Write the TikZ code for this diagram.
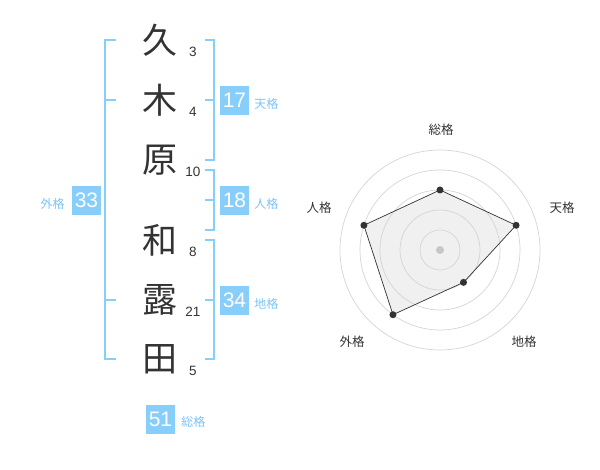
\documentclass[tikz,border=0pt]{standalone}
\usepackage{fontspec}
\setmainfont{Liberation Sans}
\newfontfamily\jp{Noto Sans CJK JP}
\usetikzlibrary{calc,positioning}
\definecolor{kakublue}{RGB}{135,206,250}
\definecolor{kakutext}{RGB}{125,195,245}
\definecolor{sumi}{RGB}{51,51,51}
\begin{document}
\begin{tikzpicture}[x=1pt,y=-1pt,
  moji/.style={font=\jp\fontsize{35}{35}\selectfont,text=sumi,inner sep=0pt},
  kakusu/.style={font=\fontsize{13.5}{13.5}\selectfont,text=sumi,inner sep=0pt},
  kakubox/.style={fill=kakublue,text=white,minimum size=29pt,inner sep=0pt,font=\fontsize{21}{21}\selectfont},
  kakulbl/.style={font=\jp\fontsize{12}{12}\selectfont,text=kakutext,inner sep=0pt,yshift=-3pt},
  bracket/.style={draw=kakublue,line width=2pt},
  ring/.style={draw=black!17,line width=0.7pt},
  axislbl/.style={font=\jp\fontsize{12.5}{12.5}\selectfont,text=sumi,inner sep=0pt},
  dot/.style={circle,fill=sumi,inner sep=0pt,minimum size=7pt}]
  \useasboundingbox (0,0) rectangle (600,470);

  \foreach \c/\y/\n/\k in {久/40/3/a,木/100/4/b,原/160/10/c,和/240/8/d,露/300/21/e,田/359/5/f}
    {
      \node[moji] (moji\k) at (160,\y) {\c};
      \node[kakusu] (su\k) at (193,\y+12) {\n};
    }

  \draw[bracket] (116,40) -- (105,40) -- (105,359) -- (116,359);
  \draw[bracket] (105,100) -- (116,100);
  \draw[bracket] (105,300) -- (116,300);
  \draw[bracket] (205,40) -- (214,40) -- (214,160) -- (205,160);
  \draw[bracket] (214,100) -- (205,100);
  \draw[bracket] (205,170) -- (214,170) -- (214,230) -- (205,230);
  \draw[bracket] (214,200) -- (205,200);
  \draw[bracket] (205,240) -- (214,240) -- (214,359) -- (205,359);
  \draw[bracket] (214,300) -- (205,300);

  \node[kakubox] (tenkaku) at (234.5,100.5) {17};
  \node[kakulbl,right=5pt of tenkaku] (tenlbl) {天格};
  \node[kakubox] (jinkaku) at (234.5,200.5) {18};
  \node[kakulbl,right=5pt of jinkaku] (jinlbl) {人格};
  \node[kakubox] (chikaku) at (234.5,300.5) {34};
  \node[kakulbl,right=5pt of chikaku] (chilbl) {地格};
  \node[kakubox] (gaikaku) at (86.5,200.5) {33};
  \node[kakulbl,left=7pt of gaikaku] (gailbl) {外格};
  \node[kakubox] (soukaku) at (160.5,419) {51};
  \node[kakulbl,right=6pt of soukaku] (soulbl) {総格};

  \coordinate (center) at (440,250);
  \foreach \a/\v/\k in {-90/60/sou,-18/80/ten,54/40/chi,126/80/gai,198/80/jin}
    {
      \coordinate (p\k) at ($(center)+(\a:\v)$);
    }
  \fill[black!6] (psou) -- (pten) -- (pchi) -- (pgai) -- (pjin) -- cycle;
  \foreach \r in {20,40,...,100}
    {
      \draw[ring] (center) circle (\r);
    }
  \fill[black!22] (center) circle (4);
  \draw[sumi,line width=0.7pt] (psou) -- (pten) -- (pchi) -- (pgai) -- (pjin) -- cycle;
  \foreach \k in {sou,ten,chi,gai,jin}
    {
      \node[dot] at (p\k) {};
    }

  \node[axislbl] (soulabel) at (441,130) {総格};
  \node[axislbl] (tenlabel) at (562,208) {天格};
  \node[axislbl] (chilabel) at (524,342) {地格};
  \node[axislbl] (gailabel) at (352,342) {外格};
  \node[axislbl] (jinlabel) at (319,208) {人格};
\end{tikzpicture}
\end{document}
